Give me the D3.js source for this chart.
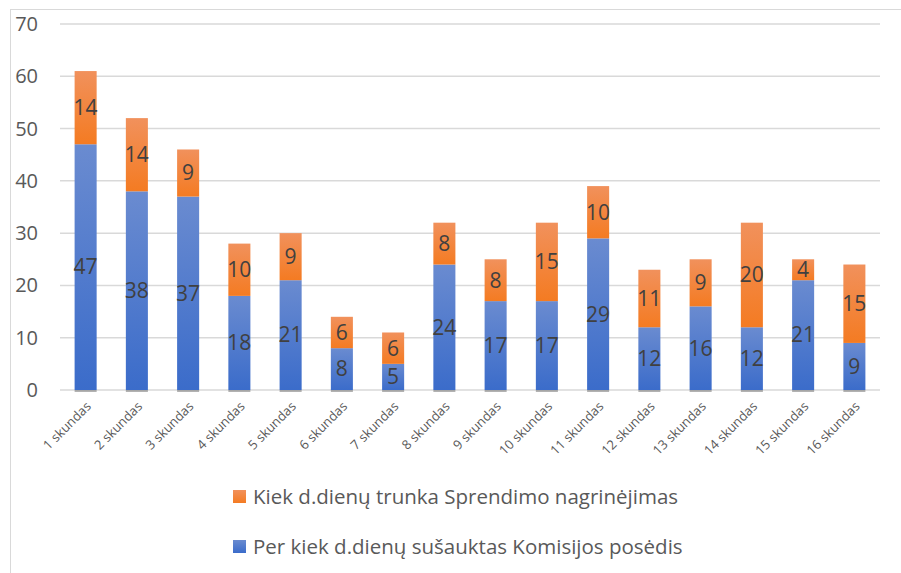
<!DOCTYPE html>
<html>
<head>
<meta charset="utf-8">
<script src="https://cdn.jsdelivr.net/npm/d3@7"></script>
<style>
  body { margin: 0; background: #fff; }
  text { font-family: "Open Sans", "Noto Sans", sans-serif; }
</style>
</head>
<body>
<script>
var categories = ["1 skundas","2 skundas","3 skundas","4 skundas","5 skundas","6 skundas","7 skundas","8 skundas",
                  "9 skundas","10 skundas","11 skundas","12 skundas","13 skundas","14 skundas","15 skundas","16 skundas"];
var posedis = [47,38,37,18,21,8,5,24,17,17,29,12,16,12,21,9];
var nagrinejimas = [14,14,9,10,9,6,6,8,8,15,10,11,9,20,4,15];
var yTicks = [0,10,20,30,40,50,60,70];
var seriesNames = ["Kiek d.dienų trunka Sprendimo nagrinėjimas", "Per kiek d.dienų sušauktas Komisijos posėdis"];

var w = 901, h = 573;
var svg = d3.select("body").append("svg").attr("width", w).attr("height", h);

var defs = svg.append("defs");
function grad(id, top, bottom){
  var g = defs.append("linearGradient").attr("id", id)
    .attr("x1", 0).attr("y1", 0).attr("x2", 0).attr("y2", 1);
  g.append("stop").attr("offset", "0%").attr("stop-color", top);
  g.append("stop").attr("offset", "100%").attr("stop-color", bottom);
}
grad("gBlue", "#6a8bd0", "#3b6cca");
grad("gOrange", "#f1915c", "#f47b22");

// outer border
svg.append("rect").attr("x", 10.5).attr("y", 9.5).attr("width", 900).attr("height", 600)
  .attr("fill", "none").attr("stroke", "#d9d9d9");

var x = d3.scaleBand().domain(categories).range([60, 880]).paddingInner(0.57).paddingOuter(0.285);
var y = d3.scaleLinear().domain([0, 70]).range([390, 24]);

// gridlines
svg.append("g").selectAll("line").data(yTicks).enter().append("line")
  .attr("x1", 60).attr("x2", 880)
  .attr("y1", function(d){ return y(d); }).attr("y2", function(d){ return y(d); })
  .attr("stroke", "#d9d9d9").attr("stroke-width", 1.5);

// y labels
svg.append("g").selectAll("text").data(yTicks).enter().append("text")
  .attr("x", 38).attr("y", function(d){ return y(d); })
  .attr("dy", "0.35em").attr("text-anchor", "end")
  .attr("fill", "#595959").style("font-size", "20px")
  .text(function(d){ return d; });

var data = categories.map(function(c, i){ return {cat: c, a: posedis[i], b: nagrinejimas[i]}; });

var bars = svg.append("g").selectAll("g").data(data).enter().append("g");

bars.append("rect")
  .attr("x", function(d){ return x(d.cat); })
  .attr("width", x.bandwidth())
  .attr("y", function(d){ return y(d.a); })
  .attr("height", function(d){ return y(0) - y(d.a); })
  .attr("fill", "url(#gBlue)");

bars.append("rect")
  .attr("x", function(d){ return x(d.cat); })
  .attr("width", x.bandwidth())
  .attr("y", function(d){ return y(d.a + d.b); })
  .attr("height", function(d){ return y(d.a) - y(d.a + d.b); })
  .attr("fill", "url(#gOrange)");

// dark baseline under bars
bars.append("line")
  .attr("x1", function(d){ return x(d.cat); })
  .attr("x2", function(d){ return x(d.cat) + x.bandwidth(); })
  .attr("y1", y(0) + 1).attr("y2", y(0) + 1)
  .attr("stroke", "#7f7f7f").attr("stroke-width", 1.2);

// value labels
bars.append("text")
  .attr("x", function(d){ return x(d.cat) + x.bandwidth() / 2; })
  .attr("y", function(d){ return y(d.a / 2); })
  .attr("dy", "0.35em").attr("text-anchor", "middle")
  .attr("fill", "#404040").style("font-size", "21px")
  .text(function(d){ return d.a; });

bars.append("text")
  .attr("x", function(d){ return x(d.cat) + x.bandwidth() / 2; })
  .attr("y", function(d){ return y(d.a + d.b / 2); })
  .attr("dy", "0.35em").attr("text-anchor", "middle")
  .attr("fill", "#404040").style("font-size", "21px")
  .text(function(d){ return d.b; });

// x labels
svg.append("g").selectAll("text").data(categories).enter().append("text")
  .attr("transform", function(d){ return "translate(" + (x(d) + x.bandwidth() / 2 + 3) + ",404) rotate(-45)"; })
  .attr("text-anchor", "end").attr("dy", "0.35em")
  .attr("fill", "#595959").style("font-size", "13px")
  .text(function(d){ return d; });

// legend
var legend = svg.append("g").selectAll("g").data(seriesNames).enter().append("g")
  .attr("transform", function(d, i){ return "translate(233," + (490 + i * 50) + ")"; });
legend.append("rect").attr("width", 13).attr("height", 13)
  .attr("fill", function(d, i){ return i === 0 ? "url(#gOrange)" : "url(#gBlue)"; });
legend.append("text").attr("x", 20).attr("y", 7).attr("dy", "0.35em")
  .attr("fill", "#595959").style("font-size", "20.5px")
  .text(function(d){ return d; });
</script>
</body>
</html>
